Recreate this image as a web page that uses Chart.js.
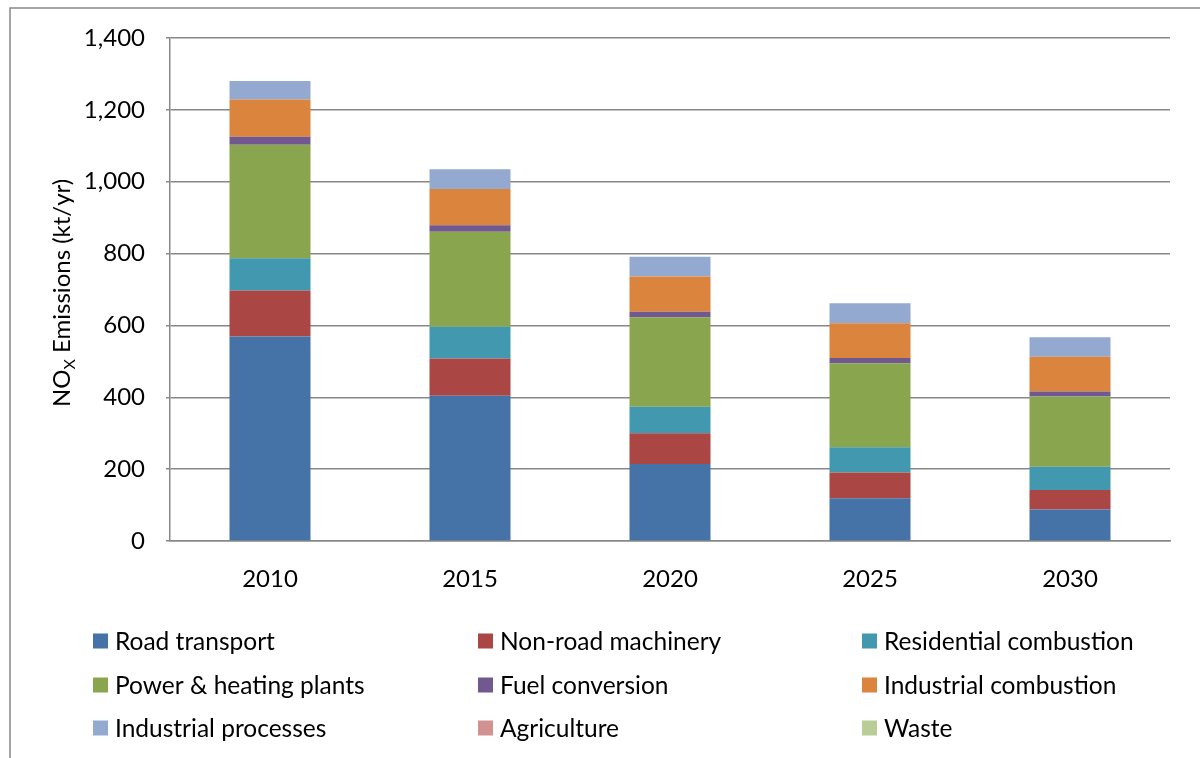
<!DOCTYPE html>
<html>
<head>
<meta charset="utf-8">
<script src="https://cdn.jsdelivr.net/npm/chart.js@4.4.1/dist/chart.umd.min.js"></script>
<style>
html,body{margin:0;padding:0;background:#fff;}
#wrap{width:1200px;height:758px;position:relative;}
</style>
</head>
<body>
<div id="wrap"><canvas id="c" width="1200" height="758"></canvas></div>
<script>
const years = ['2010','2015','2020','2025','2030'];
const roadTransport = [569, 404, 214, 119, 88];
const nonRoadMachinery = [128, 104, 86, 72, 54];
const residentialCombustion = [90, 88, 74, 70, 65];
const powerHeatingPlants = [316, 265, 249, 234, 195];
const fuelConversion = [22, 18, 15, 14, 14];
const industrialCombustion = [104, 101, 98, 97, 97];
const industrialProcesses = [51, 55, 55, 56, 54];
const agriculture = [0, 0, 0, 0, 0];
const waste = [0, 0, 0, 0, 0];
const yTicks = [0, 200, 400, 600, 800, 1000, 1200, 1400];

const FONT = 'Lato, "Open Sans", sans-serif';

const series = [
  ['Road transport', roadTransport, '#4572A7'],
  ['Non-road machinery', nonRoadMachinery, '#AA4643'],
  ['Residential combustion', residentialCombustion, '#4198AF'],
  ['Power & heating plants', powerHeatingPlants, '#89A54E'],
  ['Fuel conversion', fuelConversion, '#71588F'],
  ['Industrial combustion', industrialCombustion, '#DB843D'],
  ['Industrial processes', industrialProcesses, '#93A9CF'],
  ['Agriculture', agriculture, '#D19392'],
  ['Waste', waste, '#B9CD96']
];

const datasets = series.map(([label, data, color]) => ({
  label, data, backgroundColor: color, borderWidth: 0,
  barPercentage: 0.405, categoryPercentage: 1.0
}));

const framePlugin = {
  id: 'frame',
  afterDraw(chart) {
    const ctx = chart.ctx;
    ctx.save();
    ctx.strokeStyle = '#888888';
    ctx.lineWidth = 1.5;
    ctx.beginPath();
    ctx.moveTo(10, 760);
    ctx.lineTo(10, 8);
    ctx.lineTo(1200, 8);
    ctx.stroke();

    // y-axis title with subscript
    ctx.fillStyle = '#000';
    ctx.textBaseline = 'alphabetic';
    ctx.translate(70, 407);
    ctx.rotate(-Math.PI / 2);
    ctx.font = '24px ' + FONT;
    let x = 0;
    ctx.fillText('NO', x, 0);
    x += ctx.measureText('NO').width;
    ctx.font = '16px ' + FONT;
    ctx.fillText('X', x, 5);
    x += ctx.measureText('X').width;
    ctx.font = '24px ' + FONT;
    ctx.fillText(' Emissions (kt/yr)', x, 0);
    ctx.restore();

    // legend grid
    ctx.save();
    const cols = [93, 478, 862];
    const rows = [641, 685, 728];
    ctx.font = '24.5px ' + FONT;
    ctx.textBaseline = 'middle';
    chart.data.datasets.forEach((ds, i) => {
      const cx = cols[i % 3];
      const cy = rows[Math.floor(i / 3)];
      ctx.fillStyle = ds.backgroundColor;
      ctx.fillRect(cx, cy - 7.5, 15, 15);
      ctx.fillStyle = '#000';
      ctx.fillText(ds.label, cx + 22, cy + 1);
    });
    ctx.restore();
  }
};

new Chart(document.getElementById('c'), {
  type: 'bar',
  data: { labels: years, datasets },
  options: {
    responsive: false,
    animation: false,
    layout: { padding: { left: 0, right: 30, top: 38, bottom: 0 } },
    plugins: { legend: { display: false }, tooltip: { enabled: false } },
    scales: {
      x: {
        stacked: true,
        grid: { display: false, drawTicks: false },
        border: { display: true, color: '#888888', width: 1.5 },
        ticks: { color: '#000', font: { family: FONT, size: 24 }, padding: 24 },
        afterFit(s) { s.height = 217; }
      },
      y: {
        stacked: true,
        min: 0, max: 1400,
        afterBuildTicks(s) { s.ticks = yTicks.map(v => ({ value: v })); },
        grid: { color: '#888888', lineWidth: 1.5, drawTicks: true, tickLength: 4 },
        border: { display: true, color: '#888888', width: 1.5 },
        ticks: {
          color: '#000', font: { family: FONT, size: 24 }, padding: 21,
          callback: v => v.toLocaleString('en-US')
        },
        afterFit(s) { s.width = 170; }
      }
    }
  },
  plugins: [framePlugin]
});
</script>
</body>
</html>
